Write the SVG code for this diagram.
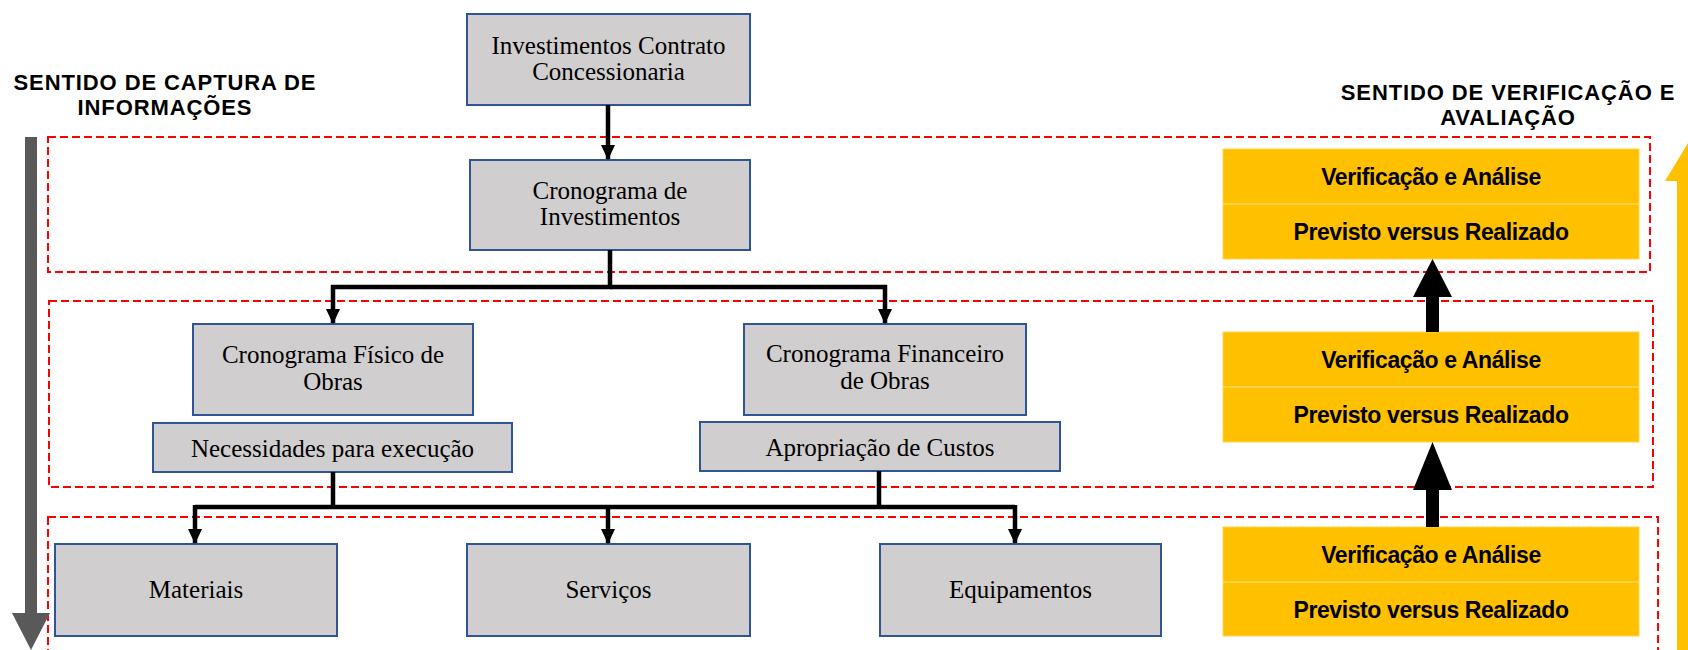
<svg xmlns="http://www.w3.org/2000/svg" width="1688" height="650" viewBox="0 0 1688 650">
<defs>
<style>
.zone{fill:none;stroke:#FF0000;stroke-width:2;stroke-dasharray:8 4}
.box{fill:#D0CECE;stroke:#2F5597;stroke-width:2}
.t{font-family:"Liberation Serif","Times New Roman",serif;font-size:25px;fill:#000;text-anchor:middle}
.h{font-family:"Liberation Sans",Arial,sans-serif;font-size:22px;font-weight:bold;fill:#000;text-anchor:middle;letter-spacing:0.9px}
.ybox{fill:#FFC000;stroke:#FFD34D;stroke-width:1}
.ydiv{stroke:#FFE38A;stroke-width:1}
.yt{font-family:"Liberation Sans",Arial,sans-serif;font-size:23px;font-weight:bold;fill:#000;text-anchor:middle;letter-spacing:-0.4px}
.c{fill:none;stroke:#000;stroke-width:4.5}
</style>
<marker id="ah" markerWidth="4" markerHeight="4" refX="3.2" refY="2" orient="auto" markerUnits="strokeWidth">
<path d="M0,0.4 L3.4,2 L0,3.6 Z" fill="#000"/>
</marker>
</defs>
<rect width="1688" height="650" fill="#FFFFFF"/>

<g id="zones">
<rect class="zone" x="48" y="137" width="1602" height="135"/>
<rect class="zone" x="49" y="301" width="1604" height="186"/>
<rect class="zone" x="48" y="517" width="1610" height="140"/>
</g>

<g id="title-left">
<text class="h" x="165" y="90">SENTIDO DE CAPTURA DE</text>
<text class="h" x="165" y="115">INFORMAÇÕES</text>
</g>
<g id="title-right">
<text class="h" x="1508" y="100">SENTIDO DE VERIFICAÇÃO E</text>
<text class="h" x="1508" y="125">AVALIAÇÃO</text>
</g>

<g id="arrow-captura">
<path d="M25,137 H37 V613 H50 L31,650 L12,613 H25 Z" fill="#595959"/>
</g>
<g id="arrow-verificacao">
<path d="M1677,650 V181 H1665 L1688,143 L1711,181 H1699 V650 Z" fill="#FFC000"/>
</g>

<g id="n-investimentos">
<rect class="box" x="467" y="14" width="283" height="91"/>
<text class="t" x="608.5" y="54">Investimentos Contrato</text>
<text class="t" x="608.5" y="80">Concessionaria</text>
</g>
<g id="n-cronograma">
<rect class="box" x="470" y="160" width="280" height="90"/>
<text class="t" x="610" y="199">Cronograma de</text>
<text class="t" x="610" y="225">Investimentos</text>
</g>
<g id="n-fisico">
<rect class="box" x="193" y="324" width="280" height="91"/>
<text class="t" x="333" y="363">Cronograma Físico de</text>
<text class="t" x="333" y="390">Obras</text>
</g>
<g id="n-financeiro">
<rect class="box" x="744" y="324" width="282" height="91"/>
<text class="t" x="885" y="362">Cronograma Financeiro</text>
<text class="t" x="885" y="389">de Obras</text>
</g>
<g id="n-necessidades">
<rect class="box" x="153" y="423" width="359" height="49"/>
<text class="t" x="332.5" y="457">Necessidades para execução</text>
</g>
<g id="n-apropriacao">
<rect class="box" x="700" y="422" width="360" height="49"/>
<text class="t" x="880" y="456">Apropriação de Custos</text>
</g>
<g id="n-materiais">
<rect class="box" x="55" y="544" width="282" height="92"/>
<text class="t" x="196" y="598">Materiais</text>
</g>
<g id="n-servicos">
<rect class="box" x="467" y="544" width="283" height="92"/>
<text class="t" x="608.5" y="598">Serviços</text>
</g>
<g id="n-equipamentos">
<rect class="box" x="880" y="544" width="281" height="92"/>
<text class="t" x="1020.5" y="598">Equipamentos</text>
</g>

<g id="n-verif1">
<rect class="ybox" x="1223" y="149" width="416" height="110"/>
<line class="ydiv" x1="1223" y1="204" x2="1639" y2="204"/>
<text class="yt" x="1431" y="185">Verificação e Análise</text>
<text class="yt" x="1431" y="240">Previsto versus Realizado</text>
</g>
<g id="n-verif2">
<rect class="ybox" x="1223" y="332" width="416" height="110"/>
<line class="ydiv" x1="1223" y1="387" x2="1639" y2="387"/>
<text class="yt" x="1431" y="368">Verificação e Análise</text>
<text class="yt" x="1431" y="423">Previsto versus Realizado</text>
</g>
<g id="n-verif3">
<rect class="ybox" x="1223" y="527" width="416" height="109"/>
<line class="ydiv" x1="1223" y1="582" x2="1639" y2="582"/>
<text class="yt" x="1431" y="563">Verificação e Análise</text>
<text class="yt" x="1431" y="618">Previsto versus Realizado</text>
</g>

<g id="connectors">
<path class="c" d="M608,105 V159" marker-end="url(#ah)"/>
<path class="c" d="M610,250 V287 H333 V323" marker-end="url(#ah)"/>
<path class="c" d="M610,287 H885 V323" marker-end="url(#ah)"/>
<path class="c" d="M333,472 V507"/>
<path class="c" d="M879,471 V507"/>
<path class="c" d="M195,507 H1015"/>
<path class="c" d="M195,505 V543" marker-end="url(#ah)"/>
<path class="c" d="M608,505 V543" marker-end="url(#ah)"/>
<path class="c" d="M1015,505 V543" marker-end="url(#ah)"/>
<path d="M1426,332 V297 H1413 L1432.5,259 L1452,297 H1439 V332 Z" fill="#000"/>
<path d="M1426,527 V490 H1413 L1432.5,442 L1452,490 H1439 V527 Z" fill="#000"/>
</g>
</svg>
